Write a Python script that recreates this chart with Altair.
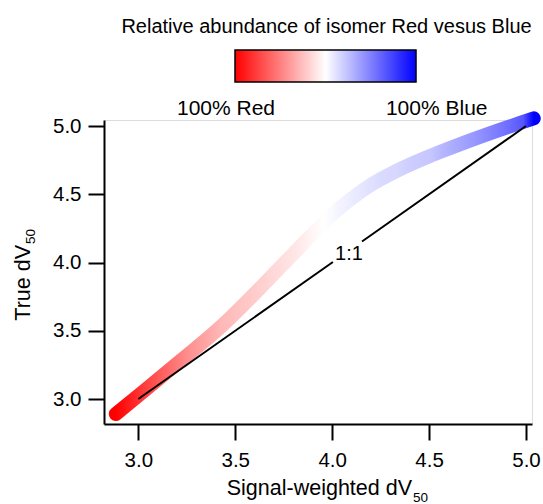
import altair as alt
import pandas as pd

FONT = "Liberation Sans"

# Mixture curve: signal-weighted dV50 against true dV50,
# coloured by the fraction of the Blue isomer (0 = all Red, 1 = all Blue)
sw_dv50 = [2.884, 3.000, 3.086, 3.258, 3.430, 3.602, 3.722, 3.823, 3.896,
           3.958, 4.025, 4.159, 4.247, 4.335, 4.417, 4.505, 4.572, 4.727,
           4.902, 4.985, 5.040]
true_dv50 = [2.890, 3.025, 3.125, 3.327, 3.535, 3.775, 3.950, 4.098, 4.203,
             4.291, 4.383, 4.530, 4.608, 4.673, 4.727, 4.780, 4.818, 4.902,
             4.990, 5.030, 5.056]
frac_blue = [0.00, 0.095, 0.16, 0.28, 0.36, 0.40, 0.43, 0.455, 0.48,
             0.50, 0.52, 0.55, 0.57, 0.58, 0.60, 0.61, 0.645, 0.70,
             0.78, 0.83, 1.00]

# 1:1 reference line, broken where its label sits
diag_x = [3.0, 4.004, 4.154, 5.0]
diag_seg = ["lower", "lower", "upper", "upper"]
diag_label = ["1:1"]
diag_label_x = [4.087]
diag_label_y = [4.018]

axis_ticks = [3.0, 3.5, 4.0, 4.5, 5.0]
x_domain = [2.823, 5.031]
y_domain = [2.817, 5.044]

legend_title = "Relative abundance of isomer Red vesus Blue"
legend_ends = ["100% Red", "100% Blue"]
x_title, y_title, title_sub = "Signal-weighted dV", "True dV", "50"

RED, WHITE, BLUE = (255, 0, 0), (255, 255, 255), (0, 0, 255)


def red_white_blue(f):
    if f <= 0.5:
        a, b, t = RED, WHITE, f / 0.5
    else:
        a, b, t = WHITE, BLUE, (f - 0.5) / 0.5
    return "#%02x%02x%02x" % tuple(round(a[i] + (b[i] - a[i]) * t) for i in range(3))


curve_df = pd.DataFrame({"sw": sw_dv50, "true": true_dv50, "blue": frac_blue})
diag_df = pd.DataFrame({"x": diag_x, "y": diag_x, "seg": diag_seg})
label_df = pd.DataFrame({"x": diag_label_x, "y": diag_label_y, "t": diag_label})

# Stroke gradient along x, one stop per curve point
x0, x1 = sw_dv50[0], sw_dv50[-1]
stops = [alt.GradientStop(offset=(x - x0) / (x1 - x0), color=red_white_blue(f))
         for x, f in zip(sw_dv50, frac_blue)]
curve_gradient = alt.LinearGradient(gradient="linear", stops=stops, x1=0, x2=1, y1=0, y2=0)

axis_style = dict(values=axis_ticks, format=".1f", title=None, grid=False,
                  domainColor="black", domainWidth=2, tickColor="black", tickWidth=2,
                  tickSize=16, labelFont=FONT, labelFontSize=20.5, labelColor="black")

x_enc = alt.X("sw:Q", scale=alt.Scale(domain=x_domain, nice=False, zero=False),
              axis=alt.Axis(labelPadding=10, **axis_style))
y_enc = alt.Y("true:Q", scale=alt.Scale(domain=y_domain, nice=False, zero=False),
              axis=alt.Axis(labelPadding=7, **axis_style))

curve = alt.Chart(curve_df).mark_line(
    color=curve_gradient, strokeWidth=14, strokeCap="round", interpolate="natural"
).encode(x=x_enc, y=y_enc)

# Transparent points that carry the colour scale for the colour-bar legend
colour_key = alt.Chart(curve_df).mark_circle(opacity=0).encode(
    x="sw:Q", y="true:Q",
    color=alt.Color(
        "blue:Q",
        scale=alt.Scale(domain=[0, 0.5, 1], range=["#ff0000", "#ffffff", "#0000ff"],
                        interpolate="rgb"),
        legend=alt.Legend(orient="none", direction="horizontal", legendX=131, legendY=-70,
                          gradientLength=181, gradientThickness=32,
                          gradientStrokeColor="black", gradientStrokeWidth=1.5,
                          labelOpacity=0, title=None, padding=0),
    ),
)

diag = alt.Chart(diag_df).mark_line(color="black", strokeWidth=2).encode(
    x="x:Q", y="y:Q", detail="seg:N")

diag_text = alt.Chart(label_df).mark_text(
    font=FONT, fontSize=20, color="black", align="center", baseline="alphabetic"
).encode(x="x:Q", y="y:Q", text="t:N")


def text_at(text, x, y, size, **kw):
    return alt.Chart(pd.DataFrame({"t": [text]})).mark_text(
        font=FONT, fontSize=size, color="black", baseline="alphabetic", **kw
    ).encode(text="t:N", x=alt.value(x), y=alt.value(y))


titles = [
    text_at(legend_title, 222.5, -86.7, 20, align="center"),
    text_at(legend_ends[0], 122, -5, 21, align="center"),
    text_at(legend_ends[1], 332.7, -5, 21, align="center"),
    text_at(x_title, 308, 374.7, 21.5, align="right"),
    text_at(title_sub, 309, 381.7, 13.5, align="left"),
    text_at(y_title, -73.7, 125, 21.5, align="right", angle=270),
    text_at(title_sub, -69, 124, 13.5, align="left", angle=270),
]

chart = alt.layer(curve, colour_key, diag, diag_text, *titles).properties(
    width=428, height=304,
    autosize=alt.AutoSizeParams(type="none"),
    padding={"left": 104, "top": 120, "right": 11, "bottom": 80},
).configure_view(stroke=None).configure(background="white")

chart.save("out.html", embed_options={"renderer": "svg", "actions": False})
